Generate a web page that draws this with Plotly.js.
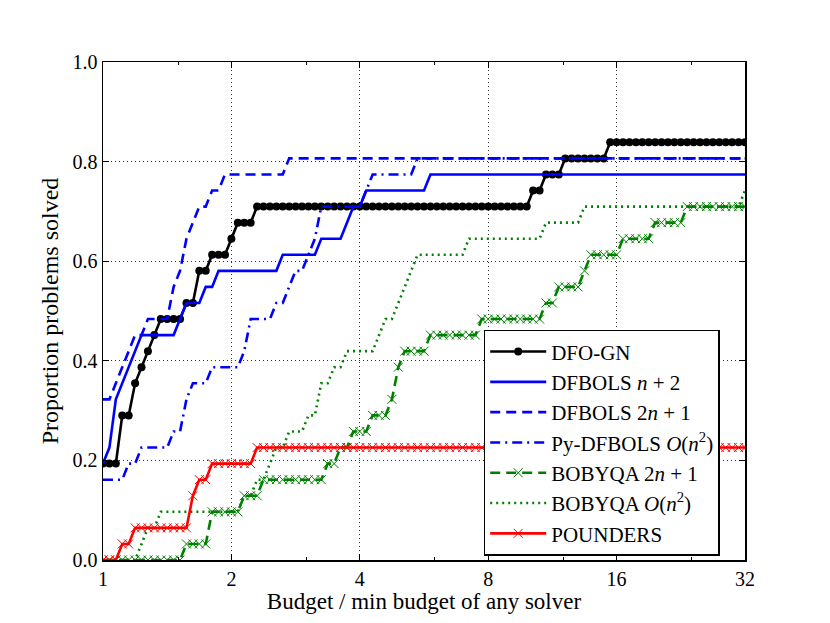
<!DOCTYPE html>
<html>
<head>
<meta charset="utf-8">
<script src="https://cdn.plot.ly/plotly-3.0.1.min.js"></script>
<style>
    html, body { margin: 0; padding: 0; background: #fff; }
    #plot { width: 830px; height: 623px; }
</style>
</head>
<body>
<div id="plot"></div>
<script>
// number of test problems, and how the budget ratio axis was sampled
const nProblems = 31
const samplesPerDoubling = 20
const nSamples = 101

const dfognSolved = [
    6,6,6,9,9,11,12,13,14,15,15,15,15,16,16,18,18,19,19,19,
    20,21,21,21,22,22,22,22,22,22,22,22,22,22,22,22,22,22,22,22,
    22,22,22,22,22,22,22,22,22,22,22,22,22,22,22,22,22,22,22,22,
    22,22,22,22,22,22,22,23,23,24,24,24,25,25,25,25,25,25,25,26,
    26,26,26,26,26,26,26,26,26,26,26,26,26,26,26,26,26,26,26,26,26]
const dfbolsN2Solved = [
    6,7,10,11,12,13,14,14,14,14,14,14,15,16,16,16,17,17,18,18,
    18,18,18,18,18,18,18,18,19,19,19,19,19,19,20,20,20,20,21,22,
    22,23,23,23,23,23,23,23,23,23,23,24,24,24,24,24,24,24,24,24,
    24,24,24,24,24,24,24,24,24,24,24,24,24,24,24,24,24,24,24,24,
    24,24,24,24,24,24,24,24,24,24,24,24,24,24,24,24,24,24,24,24,24]
const dfbols2N1Solved = [
    10,10,11,12,13,14,14,15,15,15,15,17,18,20,21,22,22,23,23,24,
    24,24,24,24,24,24,24,24,24,25,25,25,25,25,25,25,25,25,25,25,
    25,25,25,25,25,25,25,25,25,25,25,25,25,25,25,25,25,25,25,25,
    25,25,25,25,25,25,25,25,25,25,25,25,25,25,25,25,25,25,25,25,
    25,25,25,25,25,25,25,25,25,25,25,25,25,25,25,25,25,25,25,25,25]
const pyDfbolsSolved = [
    5,5,5,5,6,6,7,7,7,7,7,8,8,10,11,11,11,12,12,12,
    12,12,13,15,15,15,15,16,16,17,18,18,19,20,22,22,22,22,22,22,
    22,23,24,24,24,24,24,24,24,25,25,25,25,25,25,25,25,25,25,25,
    25,25,25,25,25,25,25,25,25,25,25,25,25,25,25,25,25,25,25,25,
    25,25,25,25,25,25,25,25,25,25,25,25,25,25,25,25,25,25,25,25,25]
const bobyqa2N1Solved = [
    0,0,0,0,0,0,0,0,0,0,0,0,0,1,1,1,1,3,3,3,
    3,3,4,4,4,5,5,5,5,5,5,5,5,5,5,6,6,7,7,8,
    8,8,9,9,9,10,12,13,13,13,13,14,14,14,14,14,14,14,14,15,
    15,15,15,15,15,15,15,15,15,16,16,17,17,17,17,18,19,19,19,19,
    19,20,20,20,20,20,21,21,21,21,21,22,22,22,22,22,22,22,22,22,22]
const bobyqaN2Solved = [
    0,0,0,0,0,0,1,2,2,3,3,3,3,3,3,3,3,3,3,3,
    3,3,4,4,5,5,6,7,7,8,8,8,9,9,11,11,12,12,13,13,
    13,13,13,14,15,15,16,17,18,19,19,19,19,19,19,19,19,20,20,20,
    20,20,20,20,20,20,20,20,20,21,21,21,21,21,21,22,22,22,22,22,
    22,22,22,22,22,22,22,22,22,22,22,22,22,22,22,22,22,22,22,22,23]
const poundersSolved = [
    0,0,0,1,1,2,2,2,2,2,2,2,2,2,4,5,5,6,6,6,
    6,6,6,6,7,7,7,7,7,7,7,7,7,7,7,7,7,7,7,7,
    7,7,7,7,7,7,7,7,7,7,7,7,7,7,7,7,7,7,7,7,
    7,7,7,7,7,7,7,7,7,7,7,7,7,7,7,7,7,7,7,7,
    7,7,7,7,7,7,7,7,7,7,7,7,7,7,7,7,7,7,7,7,7]

const xTicks = [1, 2, 4, 8, 16, 32]
const xMinorTicks = [1.5, 3, 6, 12, 24]
const yTicks = [0, 0.2, 0.4, 0.6, 0.8, 1.0]

const solverNames = [
    "DFO-GN",
    "DFBOLS <i>n</i> + 2",
    "DFBOLS 2<i>n</i> + 1",
    "Py-DFBOLS <i>O</i>(<i>n</i><sup>2</sup>)",
    "BOBYQA 2<i>n</i> + 1",
    "BOBYQA <i>O</i>(<i>n</i><sup>2</sup>)",
    "POUNDERS"
]

function plot(){
    const
        serif = "'Liberation Serif', 'Times New Roman', serif",
        budget = [],
        lw = 2.6

    for (let i = 0; i < nSamples; i++){
        budget.push(2 ** (i / samplesPerDoubling))
    }

    function trace(solved, name, color, dash, marker){
        const t = {
            x: budget,
            y: solved.map(s => s / nProblems),
            name: name,
            type: "scatter",
            mode: "lines",
            line: {color: color, width: lw, dash: dash},
            hoverinfo: "skip"
        }
        if (marker){
            t.mode = "lines+markers"
            t.marker = marker
        }
        return t
    }

    const data = [
        trace(dfognSolved, solverNames[0], "black", "solid",
            {symbol: "circle", size: 8, color: "black"}),
        trace(dfbolsN2Solved, solverNames[1], "blue", "solid"),
        trace(dfbols2N1Solved, solverNames[2], "blue", "10px,6px"),
        trace(pyDfbolsSolved, solverNames[3], "blue", "10px,5px,2px,5px"),
        trace(bobyqa2N1Solved, solverNames[4], "green", "10px,6px",
            {symbol: "x-thin", size: 9, color: "green", line: {color: "green", width: 1}}),
        trace(bobyqaN2Solved, solverNames[5], "green", "2px,4px"),
        trace(poundersSolved, solverNames[6], "red", "solid",
            {symbol: "x-thin", size: 9, color: "red", line: {color: "red", width: 1}})
    ]

    const axisCommon = {
        showline: true,
        linecolor: "black",
        linewidth: 1.5,
        mirror: "ticks",
        ticks: "inside",
        ticklen: 6,
        tickwidth: 1,
        tickcolor: "black",
        showgrid: true,
        gridcolor: "#333",
        griddash: "1px,3px",
        gridwidth: 1,
        zeroline: false,
        tickfont: {family: serif, size: 20, color: "black"},
        automargin: false
    }

    const layout = {
        width: 830,
        height: 623,
        margin: {l: 103, r: 85, t: 62, b: 63},
        paper_bgcolor: "white",
        plot_bgcolor: "white",
        showlegend: true,
        xaxis: Object.assign({}, axisCommon, {
            type: "log",
            range: [0, Math.log10(32)],
            tickmode: "array",
            tickvals: xTicks,
            ticktext: xTicks.map(String),
            ticklabelstandoff: 0,
            minor: {
                tickmode: "array",
                tickvals: xMinorTicks,
                ticks: "inside",
                ticklen: 3,
                tickcolor: "black",
                showgrid: false
            },
            title: {text: "Budget / min budget of any solver", font: {family: serif, size: 23, color: "black"}, standoff: 1}
        }),
        yaxis: Object.assign({}, axisCommon, {
            range: [0, 1],
            tickmode: "array",
            tickvals: yTicks,
            ticktext: yTicks.map(v => v.toFixed(1)),
            title: {text: "Proportion problems solved", font: {family: serif, size: 24, color: "black"}, standoff: 7}
        }),
        legend: {
            x: 0.593,
            y: 0.462,
            xanchor: "left",
            yanchor: "top",
            bgcolor: "white",
            bordercolor: "black",
            borderwidth: 1.5,
            font: {family: serif, size: 21, color: "black"},
            itemwidth: 56
        }
    }

    Plotly.newPlot("plot", data, layout, {displayModeBar: false, staticPlot: true})
}

plot()
</script>
</body>
</html>
